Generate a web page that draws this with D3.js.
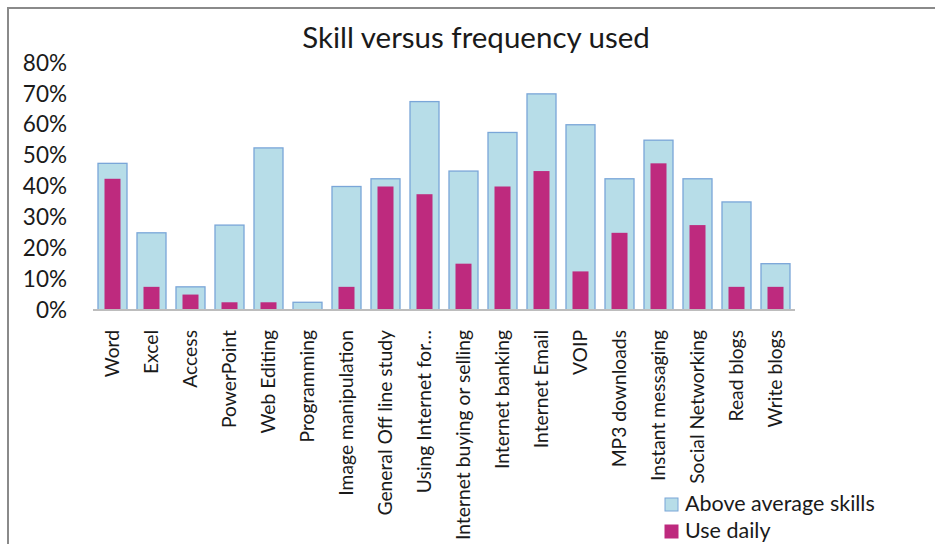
<!DOCTYPE html>
<html>
<head>
<meta charset="utf-8">
<script src="https://cdn.jsdelivr.net/npm/d3@7"></script>
<style>
  body { margin: 0; background: #fff; }
  text { font-family: Lato, "Open Sans", sans-serif; fill: #1a1a1a; }
</style>
</head>
<body>
<div id="chart"></div>
<script>
const categories = [
  "Word", "Excel", "Access", "PowerPoint", "Web Editing", "Programming",
  "Image manipulation", "General Off line study", "Using Internet for\u2026",
  "Internet buying or selling", "Internet banking", "Internet Email", "VOIP",
  "MP3 downloads", "Instant messaging", "Social Networking", "Read blogs", "Write blogs",
];
const aboveAverage = [47.5, 25, 7.5, 27.5, 52.5, 2.5, 40, 42.5, 67.5, 45, 57.5, 70, 60, 42.5, 55, 42.5, 35, 15];
const useDaily = [42.5, 7.5, 5, 2.5, 2.5, 0, 7.5, 40, 37.5, 15, 40, 45, 12.5, 25, 47.5, 27.5, 7.5, 7.5];
const yTicks = [0, 10, 20, 30, 40, 50, 60, 70, 80];
const seriesNames = ["Above average skills", "Use daily"];

const width = 935, height = 544;
const margin = { top: 63, left: 93, right: 140, bottom: 234 };

const svg = d3.select("#chart").append("svg")
  .attr("width", width)
  .attr("height", height);

// outer frame (only top and left edges visible)
svg.append("path")
  .attr("d", "M8,560 V8 H960")
  .attr("fill", "none")
  .attr("stroke", "#8a8a8a")
  .attr("stroke-width", 2);

const x = d3.scaleBand()
  .domain(categories)
  .range([margin.left, width - margin.right])
  .paddingInner(0.256)
  .paddingOuter(0.128);

const y = d3.scaleLinear()
  .domain([0, 80])
  .range([height - margin.bottom, margin.top]);

// y tick labels
svg.append("g")
  .attr("transform", "translate(67,0)")
  .call(d3.axisLeft(y).tickValues(yTicks).tickFormat(d => d + "%").tickSize(0).tickPadding(0))
  .call(g => g.select(".domain").remove())
  .call(g => g.selectAll("text").attr("font-size", 22.5).attr("font-family", "Lato, sans-serif").attr("fill", "#1a1a1a"));

// blue bars
svg.append("g").selectAll("rect")
  .data(aboveAverage)
  .join("rect")
  .attr("x", (d, i) => x(categories[i]))
  .attr("y", d => y(d))
  .attr("width", x.bandwidth())
  .attr("height", d => y(0) - y(d))
  .attr("fill", "#b7dde8")
  .attr("stroke", "#7aa6d8")
  .attr("stroke-width", 1.3);

// magenta bars
const innerW = 16;
svg.append("g").selectAll("rect")
  .data(useDaily)
  .join("rect")
  .attr("x", (d, i) => x(categories[i]) + (x.bandwidth() - innerW) / 2)
  .attr("y", d => y(d))
  .attr("width", innerW)
  .attr("height", d => y(0) - y(d))
  .attr("fill", "#be2a7e");

// baseline
svg.append("line")
  .attr("x1", margin.left).attr("x2", width - margin.right)
  .attr("y1", y(0)).attr("y2", y(0))
  .attr("stroke", "#bdbdbd")
  .attr("stroke-width", 2);

// x labels
svg.append("g")
  .attr("transform", `translate(0,${y(0)})`)
  .call(d3.axisBottom(x).tickSize(0).tickPadding(0))
  .call(g => g.select(".domain").remove())
  .call(g => g.selectAll("text")
    .attr("font-size", 19.3)
    .attr("font-family", "Lato, sans-serif")
    .attr("fill", "#1a1a1a")
    .attr("text-anchor", "end")
    .attr("dy", "0.35em")
    .attr("transform", "translate(0,20) rotate(-90)"));

// title
svg.append("text")
  .attr("x", 476)
  .attr("y", 48)
  .attr("text-anchor", "middle")
  .attr("font-size", 29.5)
  .text("Skill versus frequency used");

// legend
const legend = svg.append("g").attr("transform", "translate(665,498)");
const legendColors = [["#b7dde8", "#7aa6d8"], ["#be2a7e", "#be2a7e"]];
seriesNames.forEach((name, i) => {
  const row = legend.append("g").attr("transform", `translate(0,${i * 27})`);
  row.append("rect")
    .attr("width", 13).attr("height", 13)
    .attr("fill", legendColors[i][0])
    .attr("stroke", legendColors[i][1])
    .attr("stroke-width", 1);
  row.append("text")
    .attr("x", 20)
    .attr("y", 13)
    .attr("font-size", 21.5)
    .text(name);
});
</script>
</body>
</html>
